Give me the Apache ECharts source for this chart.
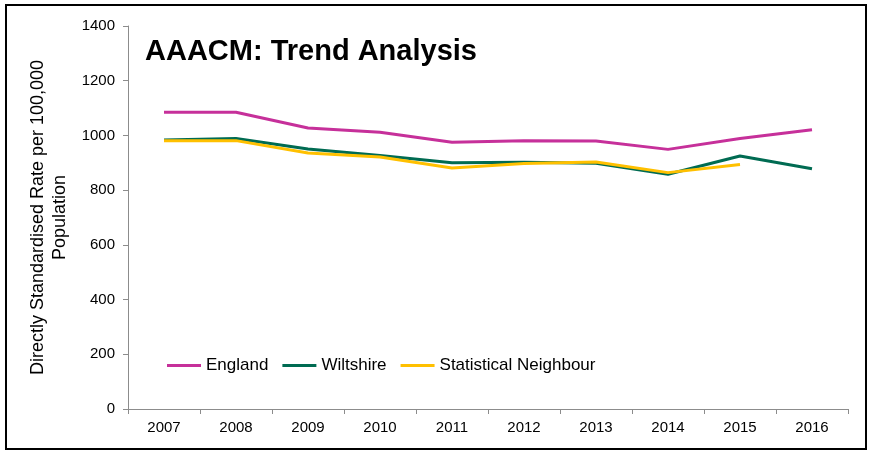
<!DOCTYPE html>
<html><head><meta charset="utf-8">
<script src="https://cdn.jsdelivr.net/npm/echarts@6/dist/echarts.min.js"></script>
<style>
html,body{margin:0;padding:0;background:#fff;}
#frame{position:absolute;left:5px;top:4px;width:858px;height:442px;border:2px solid #000;}
#chart{position:absolute;left:0;top:0;width:870px;height:452px;}
</style></head>
<body>
<div id="frame"></div>
<div id="chart"></div>
<script>
const years = ['2007','2008','2009','2010','2011','2012','2013','2014','2015','2016'];
const england = [1085, 1085, 1027, 1012, 975, 981, 980, 949, 989, 1021];
const wiltshire = [983, 989, 950, 927, 900, 902, 898, 858, 925, 878];
const statNeighbour = [981, 981, 936, 921, 881, 897, 903, 864, 894, null];

const chart = echarts.init(document.getElementById('chart'), null, {renderer:'canvas'});
const font = 'Liberation Sans, Arial, sans-serif';
chart.setOption({
  animation:false,
  backgroundColor:'transparent',
  title:{text:'AAACM: Trend Analysis', left:140, top:32,
    textStyle:{fontFamily:font, fontSize:29, fontWeight:'bold', color:'#000'}},
  legend:{left:162, top:352, itemWidth:34, itemHeight:3, itemGap:14, icon:'rect',
    textStyle:{fontFamily:font, fontSize:17, color:'#000'},
    data:['England','Wiltshire','Statistical Neighbour']},
  grid:{left:128, right:22, top:26, bottom:43},
  xAxis:{type:'category', data:years, boundaryGap:true,
    axisLine:{lineStyle:{color:'#8c8c8c', width:1}},
    axisTick:{show:true, alignWithLabel:false, length:5, lineStyle:{color:'#8c8c8c'}},
    axisLabel:{fontFamily:font, fontSize:15, color:'#000', margin:11}},
  yAxis:{type:'value', min:0, max:1400, interval:200,
    name:'Directly Standardised Rate per 100,000\nPopulation',
    nameLocation:'middle', nameGap:50, nameRotate:90,
    nameTextStyle:{fontFamily:font, fontSize:18, color:'#000', lineHeight:22},
    axisLine:{show:true, lineStyle:{color:'#8c8c8c', width:1}},
    axisTick:{show:true, length:5, lineStyle:{color:'#8c8c8c'}},
    splitLine:{show:false},
    axisLabel:{fontFamily:font, fontSize:15, color:'#000', margin:13, formatter:v=>String(v)}},
  series:[
    {name:'England', type:'line', data:england, symbol:'none', color:'#C6309A', lineStyle:{width:3}},
    {name:'Wiltshire', type:'line', data:wiltshire, symbol:'none', color:'#006B52', lineStyle:{width:3}},
    {name:'Statistical Neighbour', type:'line', data:statNeighbour, symbol:'none', color:'#FFC000', lineStyle:{width:3}}
  ]
});
</script>
</body></html>
